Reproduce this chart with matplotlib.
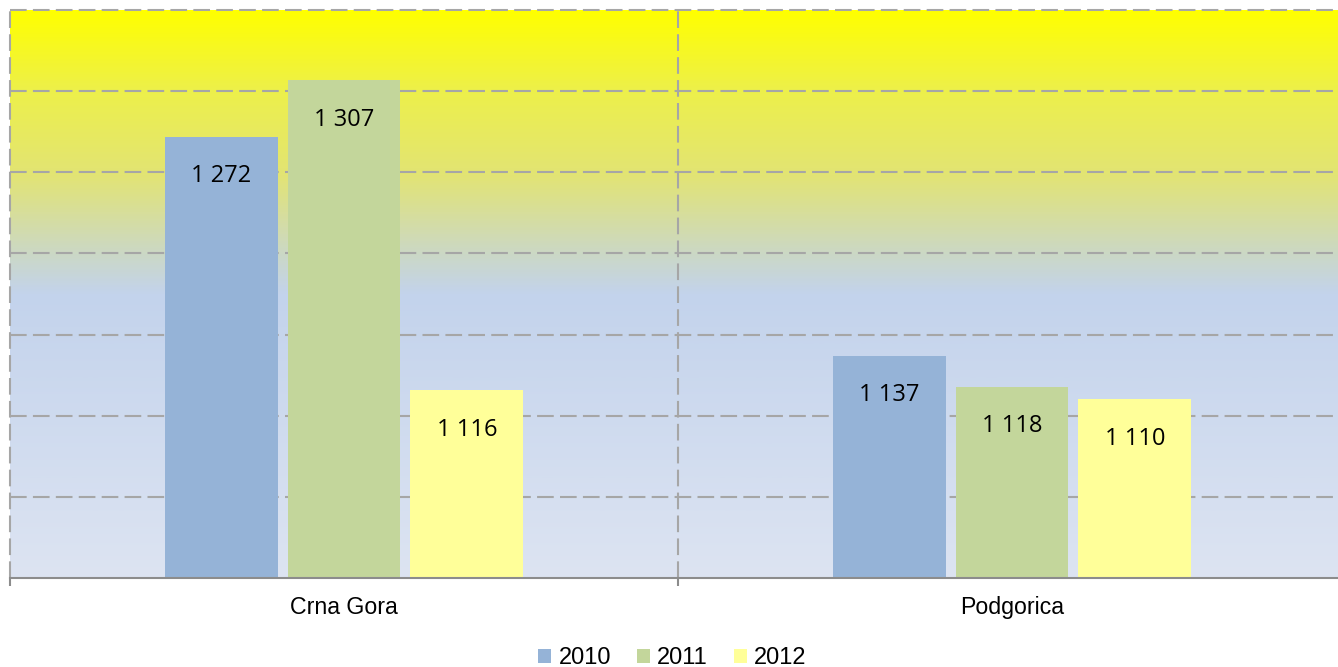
import numpy as np
import matplotlib.pyplot as plt
from matplotlib.colors import LinearSegmentedColormap

categories = ['Crna Gora', 'Podgorica']
years = ['2010', '2011', '2012']
values = {
    '2010': [1272, 1137],
    '2011': [1307, 1118],
    '2012': [1116, 1110],
}
colors = {'2010': '#95B3D7', '2011': '#C3D69B', '2012': '#FFFF99'}
labels = {
    '2010': ['1 272', '1 137'],
    '2011': ['1 307', '1 118'],
    '2012': ['1 116', '1 110'],
}

fig = plt.figure(figsize=(13.38, 6.67), dpi=100)
ax = fig.add_axes([10/1338, 1-578/667, 1336/1338, 568/667])

# background gradient (bottom -> top)
grad = LinearSegmentedColormap.from_list('bg', [
    (0.0, '#DDE4F2'),
    (0.5, '#C3D3EC'),
    (0.57, '#CBD8C6'),
    (0.71, '#E2E474'),
    (0.86, '#EDF04A'),
    (1.0, '#FFFF00'),
])
ax.imshow(np.linspace(0, 1, 512).reshape(-1, 1), cmap=grad, aspect='auto',
          origin='lower', extent=[0, 1, 0, 1], transform=ax.transAxes, zorder=0)

x = np.arange(len(categories))
width = 0.169
offset = 0.184
for i, y in enumerate(years):
    pos = x + (i - 1) * offset
    ax.bar(pos, np.array(values[y]) - 1000, width, bottom=1000, color=colors[y],
           label=y, zorder=3)
    for p, v, t in zip(pos, values[y], labels[y]):
        ax.text(p, v - 24.5, t, ha='center', va='center', fontsize=17,
                family='Open Sans', zorder=4)

ax.set_xlim(-0.5, 1.5)
ax.set_ylim(1000, 1350)

dash = (0, (8, 3))
for yy in range(1050, 1351, 50):
    ax.axhline(yy, color='#A6A6A6', lw=1.5, ls=dash, zorder=2, clip_on=False)
for xx in [-0.5, 0.5]:
    ax.axvline(xx, color='#A6A6A6', lw=1.5, ls=dash, zorder=2, clip_on=False)

for s in ['top', 'right', 'left']:
    ax.spines[s].set_visible(False)
ax.spines['bottom'].set_color('#8C8C8C')
ax.spines['bottom'].set_linewidth(1.5)
ax.spines['bottom'].set_zorder(5)

ax.set_yticks([])
ax.set_xticks([-0.5, 0.5, 1.5])
ax.set_xticklabels([])
ax.set_xticks(x, minor=True)
ax.set_xticklabels(categories, minor=True, fontsize=16.7, family='Liberation Sans')
ax.tick_params(axis='x', which='major', length=6, width=1.5, color='#8C8C8C')
ax.tick_params(axis='x', which='minor', length=0, pad=13)

fig.legend(loc='center', bbox_to_anchor=(0.5025, 1-658/667), ncol=3, frameon=False,
           prop={'family': 'Liberation Sans', 'size': 17}, handlelength=0.55,
           handleheight=0.55, handletextpad=0.3, columnspacing=1.1,
           borderpad=0)

fig.savefig('out.png', dpi=100)
